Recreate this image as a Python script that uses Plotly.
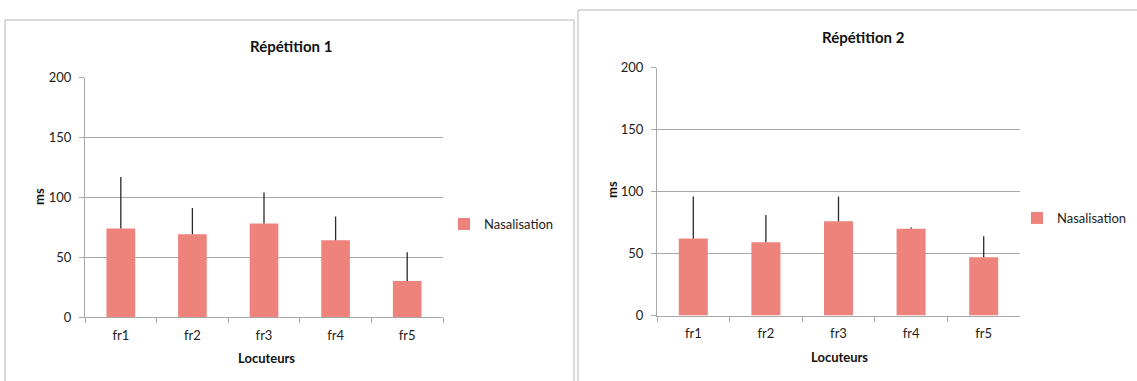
import plotly.graph_objects as go

W, H = 1137, 381

categories = ["fr1", "fr2", "fr3", "fr4", "fr5"]
rep1_values = [74, 69, 78, 64, 30]
rep1_errors = [43, 22, 26, 20, 24]
rep2_values = [62, 59, 76, 70, 47]
rep2_errors = [34, 22, 20, 1, 17]
y_ticks = [0, 50, 100, 150, 200]
series_name = "Nasalisation"
titles = ["Répétition 1", "Répétition 2"]

FONT = "Lato"
BAR = "#ee837c"
GRID = "#a8a8a8"

def px(x):
    return x / W

def py(y):
    return 1 - y / H

fig = go.Figure()

fig.add_trace(go.Bar(
    x=categories, y=rep1_values, name=series_name, width=0.4,
    marker=dict(color=BAR, line=dict(width=0)),
    error_y=dict(type="data", array=rep1_errors, arrayminus=[0] * 5, symmetric=False,
                 color="#2a2a2a", thickness=1.3, width=0),
    xaxis="x", yaxis="y", legend="legend",
))
fig.add_trace(go.Bar(
    x=categories, y=rep2_values, name=series_name, width=0.4,
    marker=dict(color=BAR, line=dict(width=0)),
    error_y=dict(type="data", array=rep2_errors, arrayminus=[0] * 5, symmetric=False,
                 color="#2a2a2a", thickness=1.3, width=0),
    xaxis="x2", yaxis="y2", legend="legend2",
))

xcommon = dict(showline=True, linecolor=GRID, linewidth=1, ticks="outside", tickson="boundaries",
               ticklen=5, tickcolor=GRID, showgrid=False, ticklabelstandoff=6,
               tickfont=dict(family=FONT, size=13, color="#222"), fixedrange=True)
ycommon = dict(range=[0, 200], tickvals=y_ticks, showline=True, linecolor=GRID, linewidth=1,
               ticks="outside", ticklen=5, tickcolor=GRID, showgrid=True, gridcolor=GRID,
               gridwidth=1, zeroline=False, ticklabelstandoff=5,
               tickfont=dict(family=FONT, size=13, color="#222"), fixedrange=True)

fig.update_layout(
    width=W, height=H,
    margin=dict(l=0, r=0, t=0, b=0, autoexpand=False),
    paper_bgcolor="white", plot_bgcolor="white",
    showlegend=True,
    xaxis=dict(domain=[px(85), px(443)], anchor="y", **xcommon),
    yaxis=dict(domain=[py(317), py(77.5)], anchor="x", **ycommon),
    xaxis2=dict(domain=[px(657), px(1020)], anchor="y2", **xcommon),
    yaxis2=dict(domain=[py(315.5), py(67.5)], anchor="x2", **ycommon),
    legend=dict(x=px(444), y=py(224), xanchor="left", yanchor="middle",
                font=dict(family=FONT, size=13, color="#222"), bgcolor="rgba(0,0,0,0)",
                itemwidth=30),
    legend2=dict(x=px(1017), y=py(218), xanchor="left", yanchor="middle",
                 font=dict(family=FONT, size=13, color="#222"), bgcolor="rgba(0,0,0,0)",
                 itemwidth=30),
)

ann = []
common = dict(xref="paper", yref="paper", showarrow=False, xanchor="center", yanchor="middle")
for tx, ty, t in [(291, 46, titles[0]), (864, 37, titles[1])]:
    ann.append(dict(x=px(tx), y=py(ty), text=f"<b>{t}</b>",
                    font=dict(family=FONT, size=15, color="#111"), **common))
for tx, ty in [(266, 358), (839, 357)]:
    ann.append(dict(x=px(tx), y=py(ty), text="<b>Locuteurs</b>",
                    font=dict(family=FONT, size=13, color="#111"), **common))
for tx, ty in [(39, 197), (612, 190)]:
    ann.append(dict(x=px(tx), y=py(ty), text="<b>ms</b>", textangle=-90,
                    font=dict(family=FONT, size=13, color="#111"), **common))
fig.update_layout(annotations=ann)

BORDER = "#b5b5b5"
shapes = [
    dict(type="line", xref="paper", yref="paper", x0=px(5), x1=px(574), y0=py(20), y1=py(20)),
    dict(type="line", xref="paper", yref="paper", x0=px(5), x1=px(5), y0=py(20), y1=0),
    dict(type="line", xref="paper", yref="paper", x0=px(574), x1=px(574), y0=py(20), y1=0),
    dict(type="line", xref="paper", yref="paper", x0=px(578), x1=1, y0=py(10), y1=py(10)),
    dict(type="line", xref="paper", yref="paper", x0=px(578), x1=px(578), y0=py(10), y1=0),
]
for s in shapes:
    s["line"] = dict(color=BORDER, width=1)
fig.update_layout(shapes=shapes)

fig.write_html("out.html",
               config={"displayModeBar": False},
               post_script="document.body.style.margin='0px';document.body.style.overflow='hidden';")
